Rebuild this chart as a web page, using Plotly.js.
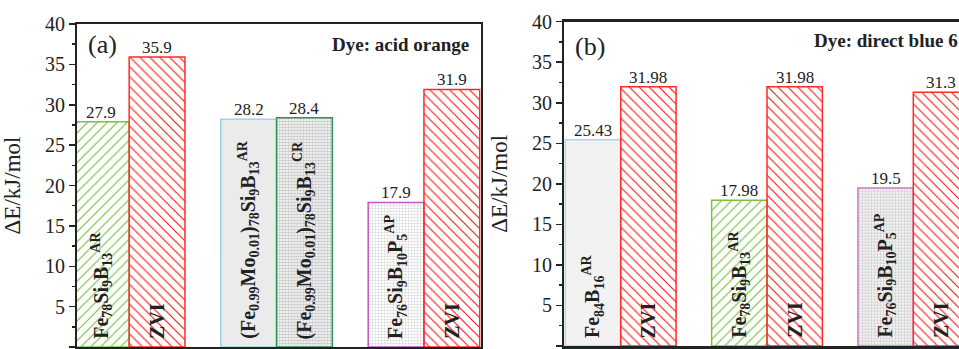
<!DOCTYPE html>
<html>
<head>
<meta charset="utf-8">
<script src="https://cdn.plot.ly/plotly-3.0.1.min.js"></script>
<style>
html, body { margin: 0; padding: 0; background: #ffffff; }
#chart { width: 959px; height: 349px; }
</style>
</head>
<body>
<div id="chart"></div>
<script>
// ---------------- DATA ----------------
// Panel (a) — Dye: acid orange
const groupsA = ['Fe78Si9B13 / ZVI', '(Fe0.99Mo0.01)78Si9B13 AR / CR', 'Fe76Si9B10P5 / ZVI'];
const leftValuesA = [27.9, 28.2, 17.9];
const rightValuesA = [35.9, 28.4, 31.9];
const leftNamesA = [
  'Fe<sub>78</sub>Si<sub>9</sub>B<sub>13</sub><sup>AR</sup>',
  '(Fe<sub>0.99</sub>Mo<sub>0.01</sub>)<sub>78</sub>Si<sub>9</sub>B<sub>13</sub><sup>AR</sup>',
  'Fe<sub>76</sub>Si<sub>9</sub>B<sub>10</sub>P<sub>5</sub><sup>AP</sup>'
];
const rightNamesA = [
  'ZVI',
  '(Fe<sub>0.99</sub>Mo<sub>0.01</sub>)<sub>78</sub>Si<sub>9</sub>B<sub>13</sub><sup>CR</sup>',
  'ZVI'
];
const panelTagA = '(a)';
const dyeA = 'Dye: acid orange';

// Panel (b) — Dye: direct blue 6
const groupsB = ['Fe84B16 / ZVI', 'Fe78Si9B13 / ZVI', 'Fe76Si9B10P5 / ZVI'];
const leftValuesB = [25.43, 17.98, 19.5];
const rightValuesB = [31.98, 31.98, 31.3];
const leftNamesB = [
  'Fe<sub>84</sub>B<sub>16</sub><sup>AR</sup>',
  'Fe<sub>78</sub>Si<sub>9</sub>B<sub>13</sub><sup>AR</sup>',
  'Fe<sub>76</sub>Si<sub>9</sub>B<sub>10</sub>P<sub>5</sub><sup>AP</sup>'
];
const rightNamesB = ['ZVI', 'ZVI', 'ZVI'];
const panelTagB = '(b)';
const dyeB = 'Dye: direct blue 6';

const yTitle = 'ΔE/kJ/mol';

// ---------------- STYLES ----------------
// With per-point marker colours, Plotly draws the pattern foreground in the marker colour
// on a transparent background (white plot background shows through).
const SERIF = 'Liberation Serif';
const INK = '#222222';
const STYLES = {
  greenHatch:  {color: '#78c03c', line: '#7cc142', shape: '/',  size: 7, solidity: 0.17},
  redHatch:    {color: '#ff1a1a', line: '#ff2a2a', shape: '\\', size: 7, solidity: 0.17},
  cyanGray:    {color: '#ebebeb', line: '#9ed6e4', shape: '',   size: 7, solidity: 0.3},
  greenGray:   {color: '#c9c9c9', line: '#2f9358', shape: '.',  size: 3, solidity: 0.62},
  magentaGray: {color: '#d2d2d2', line: '#c458b6', shape: '+',  size: 3, solidity: 0.3},
  magentaGray2:{color: '#d0d0d0', line: '#c87ec0', shape: '.',  size: 3, solidity: 0.55},
  paleCyan:    {color: '#f2f2f2', line: '#a6dbe8', shape: '',   size: 7, solidity: 0.3}
};
const leftStyleA = ['greenHatch', 'cyanGray', 'magentaGray'];
const rightStyleA = ['redHatch', 'greenGray', 'redHatch'];
const leftStyleB = ['paleCyan', 'greenHatch', 'magentaGray2'];
const rightStyleB = ['redHatch', 'redHatch', 'redHatch'];

const BARGAP = 0.243;
const HALF = (1 - BARGAP) / 4;   // half of a single bar width, in category units

function barTrace(x, y, styleKeys, xa, ya) {
  const st = styleKeys.map(k => STYLES[k]);
  return {
    type: 'bar', x: x, y: y, xaxis: xa, yaxis: ya,
    marker: {
      color: st.map(s => s.color),
      line: {color: st.map(s => s.line), width: 1.5},
      pattern: {
        shape: st.map(s => s.shape),
        size: st.map(s => s.size),
        solidity: st.map(s => s.solidity),
        fillmode: 'replace'
      }
    },
    hoverinfo: 'skip', showlegend: false
  };
}

const traces = [
  barTrace(groupsA, leftValuesA, leftStyleA, 'x', 'y'),
  barTrace(groupsA, rightValuesA, rightStyleA, 'x', 'y'),
  barTrace(groupsB, leftValuesB, leftStyleB, 'x2', 'y2'),
  barTrace(groupsB, rightValuesB, rightStyleB, 'x2', 'y2')
];

const annotations = [];
function addBarLabels(values, names, side, xref, yref) {
  values.forEach((v, i) => {
    const xc = i + side * HALF;
    annotations.push({
      xref: xref, yref: yref, x: xc, y: v, text: String(v),
      showarrow: false, xanchor: 'center', yanchor: 'bottom', yshift: -2,
      font: {family: SERIF, size: 17, color: INK}
    });
    annotations.push({
      xref: xref, yref: yref, x: xc, y: 0, text: '<b>' + names[i] + '</b>',
      showarrow: false, xanchor: 'center', yanchor: 'bottom', yshift: 6,
      textangle: -90,
      font: {family: SERIF, size: 20, color: INK}
    });
  });
}
addBarLabels(leftValuesA, leftNamesA, -1, 'x', 'y');
addBarLabels(rightValuesA, rightNamesA, 1, 'x', 'y');
addBarLabels(leftValuesB, leftNamesB, -1, 'x2', 'y2');
addBarLabels(rightValuesB, rightNamesB, 1, 'x2', 'y2');

annotations.push(
  {xref: 'x domain', yref: 'y domain', x: 0.022, y: 0.935, text: panelTagA, showarrow: false,
   xanchor: 'left', yanchor: 'middle', font: {family: SERIF, size: 26, color: INK}},
  {xref: 'x domain', yref: 'y domain', x: 0.975, y: 0.935, text: '<b>' + dyeA + '</b>', showarrow: false,
   xanchor: 'right', yanchor: 'middle', font: {family: SERIF, size: 19, color: INK}},
  {xref: 'x2 domain', yref: 'y2 domain', x: 0.022, y: 0.925, text: panelTagB, showarrow: false,
   xanchor: 'left', yanchor: 'middle', font: {family: SERIF, size: 26, color: INK}},
  {xref: 'x2 domain', yref: 'y2 domain', x: 0.628, y: 0.943, text: '<b>' + dyeB + '</b>', showarrow: false,
   xanchor: 'left', yanchor: 'middle', font: {family: SERIF, size: 19, color: INK}}
);

function yAxis(domain, mirror, anchor) {
  return {
    domain: domain, anchor: anchor, range: [0, 40], dtick: 5,
    ticks: 'outside', ticklen: 6, tickwidth: 1.5, tickcolor: INK,
    minor: {ticks: 'outside', dtick: 2.5, ticklen: 3, tickwidth: 1.5, tickcolor: INK},
    showline: true, linewidth: 2, linecolor: INK, mirror: mirror,
    showgrid: false, zeroline: false,
    tickfont: {family: SERIF, size: 20, color: INK},
    title: {text: yTitle, font: {family: SERIF, size: 23, color: INK}},
    fixedrange: true
  };
}
function xAxis(domain, range, anchor) {
  return {
    domain: domain, anchor: anchor, type: 'category', range: range,
    showline: true, linewidth: 2.5, linecolor: INK, mirror: true,
    ticks: '', showticklabels: false, showgrid: false, zeroline: false,
    fixedrange: true
  };
}

const layout = {
  width: 959, height: 349,
  margin: {l: 0, r: 0, t: 0, b: 0},
  paper_bgcolor: '#ffffff', plot_bgcolor: '#ffffff',
  barmode: 'group', bargap: BARGAP, bargroupgap: 0,
  showlegend: false,
  font: {family: SERIF, color: INK},
  xaxis: xAxis([77 / 959, 480.7 / 959], [-0.354, 2.385], 'y'),
  yaxis: yAxis([2 / 349, 325 / 349], true, 'x'),
  xaxis2: xAxis([564 / 959, 1], [-0.3876, 2.3124], 'y2'),
  yaxis2: yAxis([3 / 349, 327.3 / 349], false, 'x2'),
  annotations: annotations
};

Plotly.newPlot('chart', traces, layout, {staticPlot: true, displayModeBar: false});
</script>
</body>
</html>
